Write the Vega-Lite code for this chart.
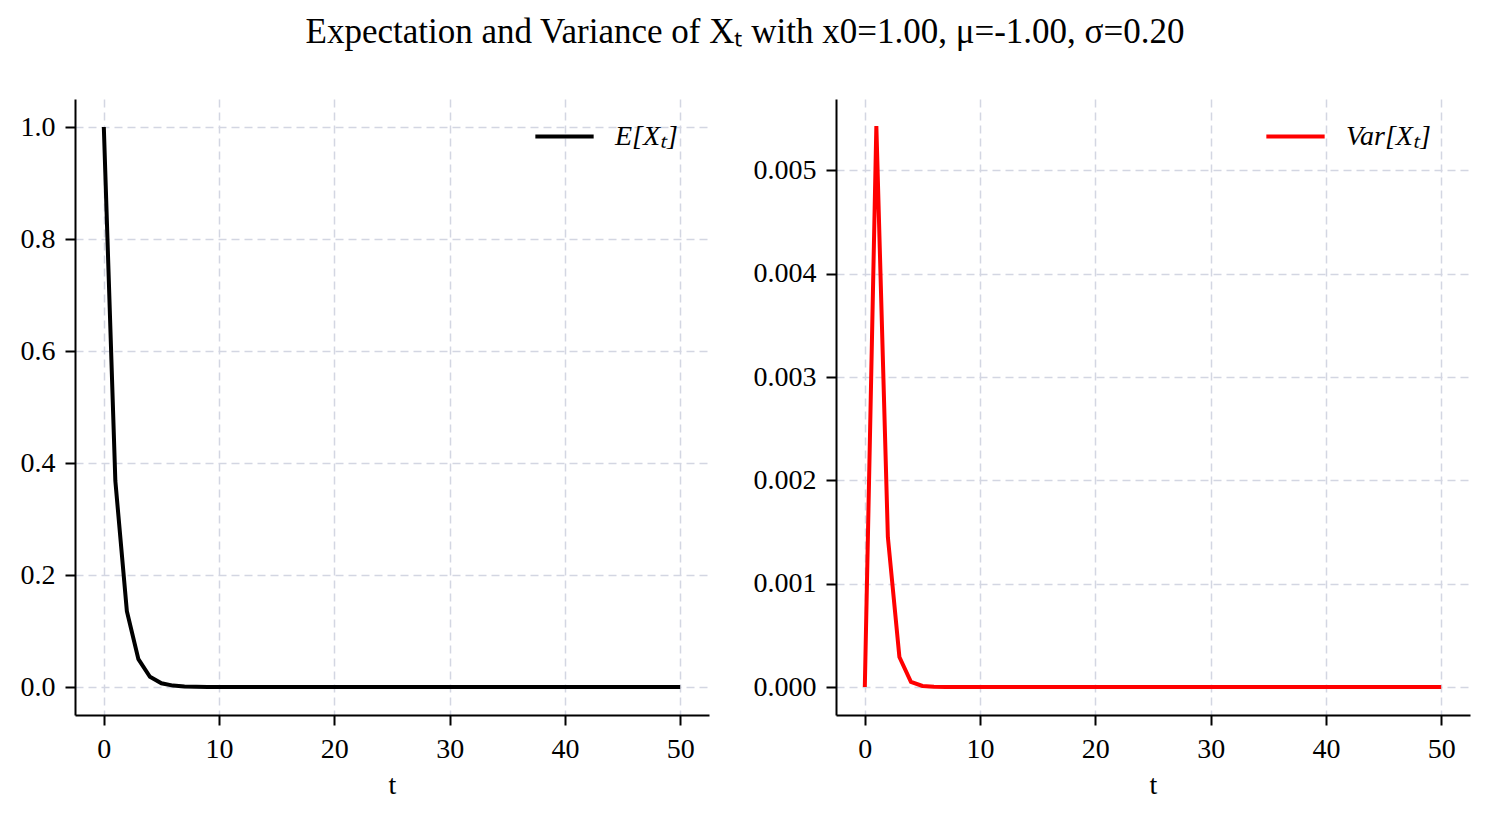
{
  "$schema": "https://vega.github.io/schema/vega-lite/v6.json",
  "background": "white",
  "padding": {"left": 20, "top": 15, "right": 19, "bottom": 20},
  "title": {"text": "Expectation and Variance of Xₜ with x0=1.00, μ=-1.00, σ=0.20", "font": "Liberation Serif", "fontSize": 35, "fontWeight": "normal", "color": "black", "anchor": "middle", "offset": 49},
  "datasets": {
    "d": [
      {"t": 0, "e": 1.0, "var": 0.0},
      {"t": 1, "e": 0.3679, "var": 0.00543},
      {"t": 2, "e": 0.1353, "var": 0.00145},
      {"t": 3, "e": 0.0498, "var": 0.00029},
      {"t": 4, "e": 0.0183, "var": 0.00005},
      {"t": 5, "e": 0.0067, "var": 0.00001},
      {"t": 6, "e": 0.0025, "var": 0.000002},
      {"t": 7, "e": 0.0009, "var": 0.0},
      {"t": 8, "e": 0.0003, "var": 0.0},
      {"t": 9, "e": 0.0001, "var": 0.0},
      {"t": 10, "e": 0.0, "var": 0.0},
      {"t": 11, "e": 0.0, "var": 0.0},
      {"t": 12, "e": 0.0, "var": 0.0},
      {"t": 13, "e": 0.0, "var": 0.0},
      {"t": 14, "e": 0.0, "var": 0.0},
      {"t": 15, "e": 0.0, "var": 0.0},
      {"t": 16, "e": 0.0, "var": 0.0},
      {"t": 17, "e": 0.0, "var": 0.0},
      {"t": 18, "e": 0.0, "var": 0.0},
      {"t": 19, "e": 0.0, "var": 0.0},
      {"t": 20, "e": 0.0, "var": 0.0},
      {"t": 21, "e": 0.0, "var": 0.0},
      {"t": 22, "e": 0.0, "var": 0.0},
      {"t": 23, "e": 0.0, "var": 0.0},
      {"t": 24, "e": 0.0, "var": 0.0},
      {"t": 25, "e": 0.0, "var": 0.0},
      {"t": 26, "e": 0.0, "var": 0.0},
      {"t": 27, "e": 0.0, "var": 0.0},
      {"t": 28, "e": 0.0, "var": 0.0},
      {"t": 29, "e": 0.0, "var": 0.0},
      {"t": 30, "e": 0.0, "var": 0.0},
      {"t": 31, "e": 0.0, "var": 0.0},
      {"t": 32, "e": 0.0, "var": 0.0},
      {"t": 33, "e": 0.0, "var": 0.0},
      {"t": 34, "e": 0.0, "var": 0.0},
      {"t": 35, "e": 0.0, "var": 0.0},
      {"t": 36, "e": 0.0, "var": 0.0},
      {"t": 37, "e": 0.0, "var": 0.0},
      {"t": 38, "e": 0.0, "var": 0.0},
      {"t": 39, "e": 0.0, "var": 0.0},
      {"t": 40, "e": 0.0, "var": 0.0},
      {"t": 41, "e": 0.0, "var": 0.0},
      {"t": 42, "e": 0.0, "var": 0.0},
      {"t": 43, "e": 0.0, "var": 0.0},
      {"t": 44, "e": 0.0, "var": 0.0},
      {"t": 45, "e": 0.0, "var": 0.0},
      {"t": 46, "e": 0.0, "var": 0.0},
      {"t": 47, "e": 0.0, "var": 0.0},
      {"t": 48, "e": 0.0, "var": 0.0},
      {"t": 49, "e": 0.0, "var": 0.0},
      {"t": 50, "e": 0.0, "var": 0.0}
    ]
  },
  "spacing": 44,
  "hconcat": [
    {
      "width": 634,
      "height": 616,
      "data": {"name": "d"},
      "mark": {"type": "line", "strokeWidth": 4},
      "encoding": {
        "x": {"field": "t", "type": "quantitative", "scale": {"domain": [-2.5, 52.5], "nice": false, "zero": false}, "axis": {"values": [0, 10, 20, 30, 40, 50], "format": "d", "title": "t"}},
        "y": {"field": "e", "type": "quantitative", "scale": {"domain": [-0.05, 1.05], "nice": false, "zero": false}, "axis": {"values": [0, 0.2, 0.4, 0.6, 0.8, 1.0], "format": ".1f", "title": null}},
        "color": {"datum": "E[Xₜ]", "type": "nominal", "scale": {"domain": ["E[Xₜ]"], "range": ["black"]}, "legend": {"title": null, "orient": "none", "legendX": 458, "legendY": 6}}
      }
    },
    {
      "width": 634,
      "height": 616,
      "data": {"name": "d"},
      "mark": {"type": "line", "strokeWidth": 4},
      "encoding": {
        "x": {"field": "t", "type": "quantitative", "scale": {"domain": [-2.5, 52.5], "nice": false, "zero": false}, "axis": {"values": [0, 10, 20, 30, 40, 50], "format": "d", "title": "t"}},
        "y": {"field": "var", "type": "quantitative", "scale": {"domain": [-0.000271, 0.005691], "nice": false, "zero": false}, "axis": {"values": [0, 0.001, 0.002, 0.003, 0.004, 0.005], "format": ".3f", "title": null}},
        "color": {"datum": "Var[Xₜ]", "type": "nominal", "scale": {"domain": ["Var[Xₜ]"], "range": ["red"]}, "legend": {"title": null, "orient": "none", "legendX": 428, "legendY": 6}}
      }
    }
  ],
  "resolve": {"scale": {"color": "independent", "x": "independent", "y": "independent"}, "legend": {"color": "independent"}},
  "config": {
    "view": {"stroke": null},
    "font": "Liberation Serif",
    "axis": {
      "domainColor": "black", "domainWidth": 2,
      "tickColor": "black", "tickWidth": 2, "tickSize": 10,
      "labelFont": "Liberation Serif", "labelFontSize": 28, "labelColor": "black", "labelPadding": 10,
      "labelFlush": false, "labelOverlap": false,
      "titleFont": "Liberation Serif", "titleFontSize": 28, "titleFontWeight": "normal", "titleColor": "black", "titlePadding": 8,
      "grid": true, "gridColor": "#d3d6e2", "gridWidth": 1.5, "gridDash": [8, 5]
    },
    "legend": {
      "symbolType": "stroke", "symbolSize": 3400, "symbolStrokeWidth": 4,
      "labelFont": "Liberation Serif", "labelFontSize": 28, "labelFontStyle": "italic", "labelColor": "black",
      "labelOffset": 19, "padding": 0
    }
  }
}
